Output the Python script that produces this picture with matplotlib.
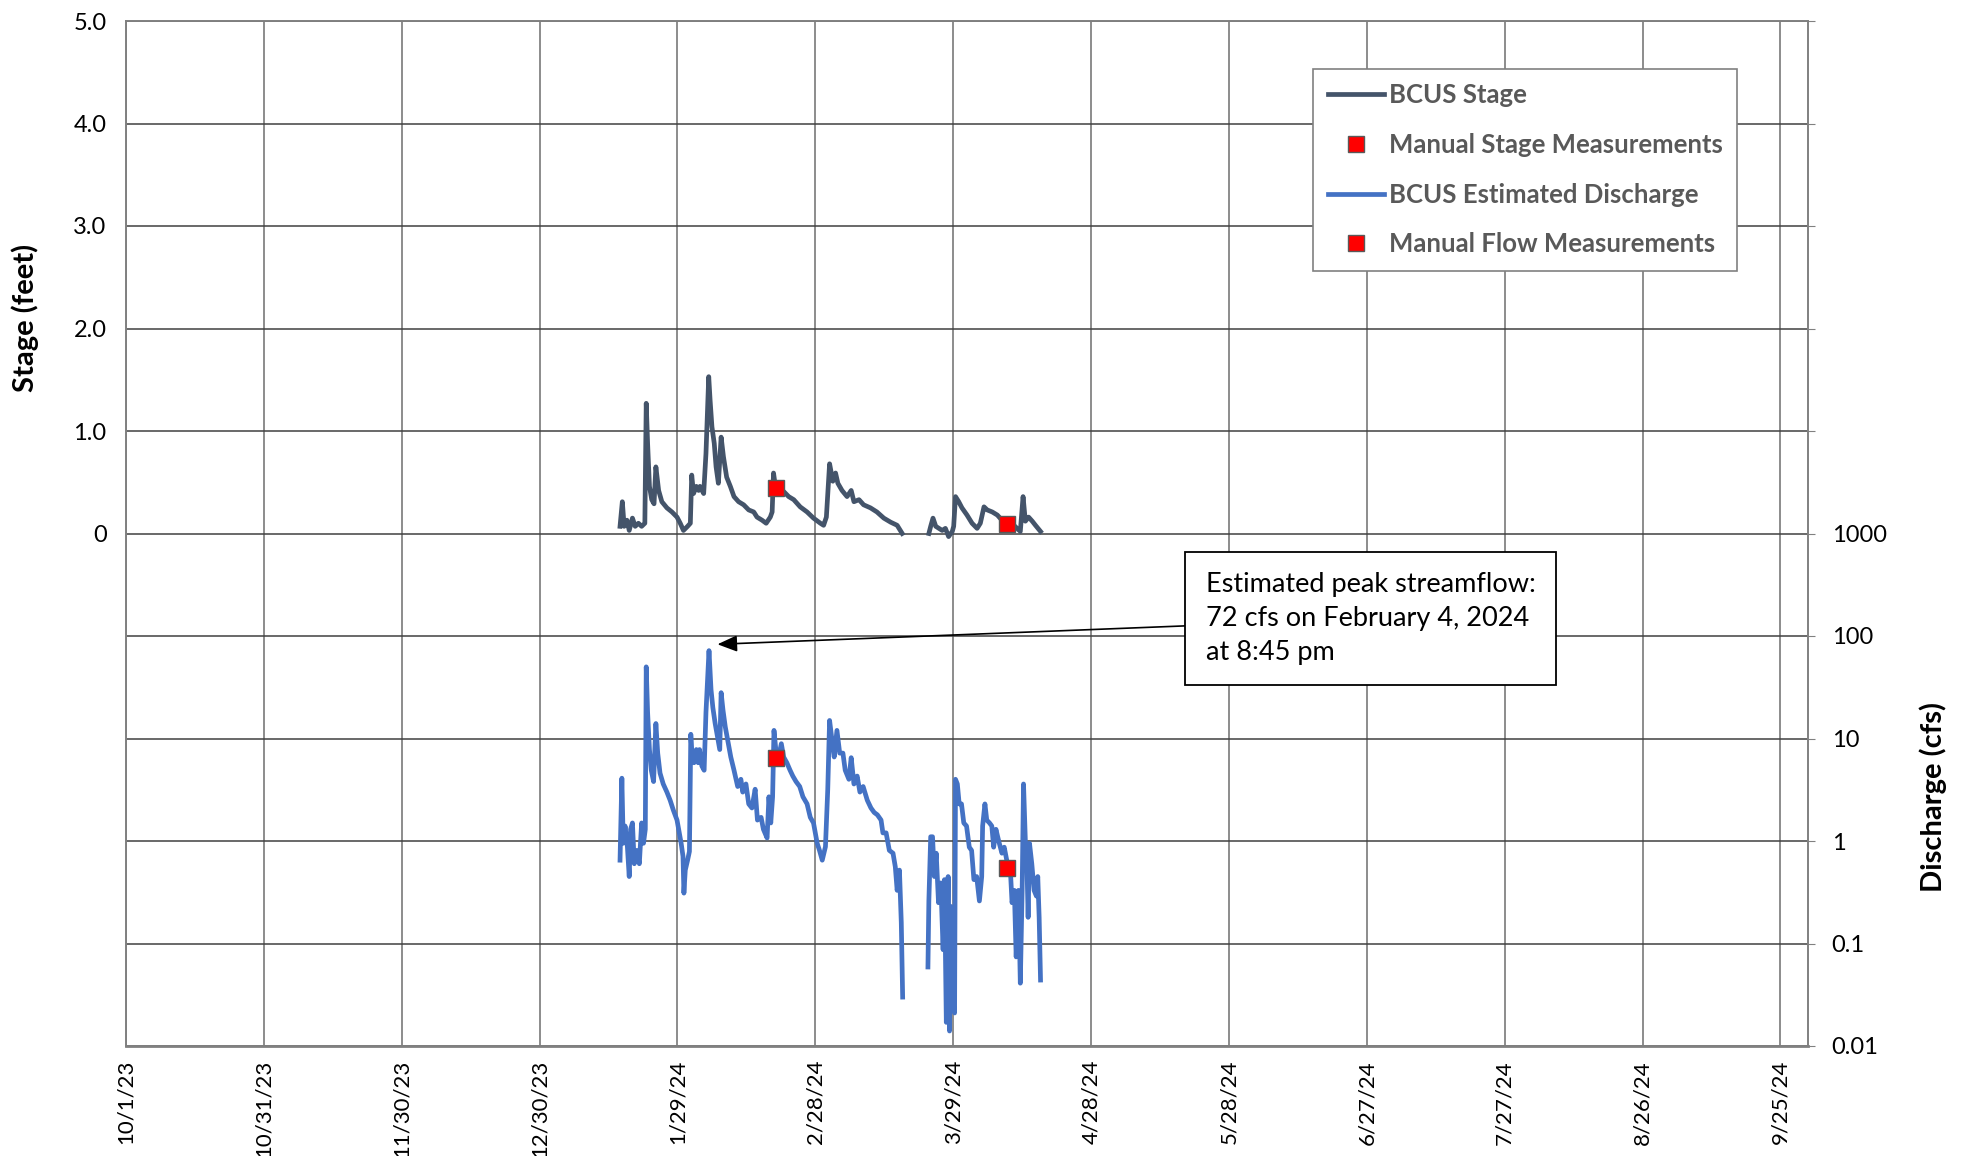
import matplotlib
matplotlib.use("Agg")
import matplotlib.pyplot as plt
import numpy as np
import pandas as pd

plt.rcParams['font.family'] = ['Lato', 'DejaVu Sans']

# days are counted from 1/29/24
BASE = pd.Timestamp("2024-01-29")
NAN = float('nan')

stage_day = [-12.5, -12.0, -11.6, -11.0, -10.5, -9.8, -9.2, -8.5, -7.8, -7.1, -6.8, -6.5, -6.1, -5.6, -5.1,
             -4.7, -4.1, -3.4, -2.3, -1.2, -0.1, 0.6, 1.3, 2.2, 2.8, 3.1, 3.5, 4.1, 4.6, 4.9, 5.7, 6.2, 6.8,
             7.1, 7.5, 8.0, 8.4, 8.9, 9.5, 10.0, 10.7, 11.5, 12.3, 13.3, 14.4, 15.5, 16.6, 17.3, 18.4, 19.3,
             20.2, 20.6, 20.9, 21.3, 22.0, 23.1, 24.2, 25.3, 26.7, 28.2, 29.6, 31.1, 31.8, 32.4, 33.1, 33.8,
             34.4, 34.9, 35.8, 36.9, 37.8, 38.4, 39.5, 40.5, 42.0, 43.4, 44.9, 46.4, 47.8, 48.9,
             51.8,
             54.7, 55.1, 55.6, 56.2, 56.9, 57.6, 58.3, 59.0, 59.8, 60.1, 60.5, 61.2, 61.9, 63.0, 64.1, 65.2,
             65.9, 66.7, 67.4, 68.5, 69.6, 70.6, 71.7, 73.2, 74.6, 75.2, 75.7, 76.4, 77.2, 77.9, 79.0]
stage_ft = [0.07, 0.31, 0.07, 0.13, 0.03, 0.15, 0.07, 0.10, 0.07, 0.10, 1.27, 0.88, 0.46, 0.33, 0.29,
            0.65, 0.42, 0.31, 0.25, 0.21, 0.16, 0.10, 0.03, 0.07, 0.10, 0.57, 0.39, 0.46, 0.42, 0.46, 0.39,
            0.78, 1.53, 1.30, 1.04, 0.88, 0.65, 0.49, 0.94, 0.75, 0.55, 0.46, 0.36, 0.31, 0.28, 0.23, 0.21,
            0.16, 0.13, 0.10, 0.16, 0.21, 0.59, 0.46, 0.42, 0.41, 0.36, 0.33, 0.26, 0.21, 0.15, 0.10, 0.08,
            0.16, 0.68, 0.51, 0.59, 0.49, 0.42, 0.36, 0.42, 0.31, 0.33, 0.28, 0.25, 0.21, 0.15, 0.11, 0.08,
            0.00,
            NAN,
            0.00, 0.07, 0.15, 0.07, 0.05, 0.03, 0.05, -0.03, 0.02, 0.07, 0.36, 0.31, 0.25, 0.18, 0.10, 0.05,
            0.10, 0.26, 0.23, 0.21, 0.18, 0.13, 0.12, 0.08, 0.02, 0.36, 0.12, 0.16, 0.12, 0.08, 0.02]

flow_day = [-12.5, -12.1, -11.8, -11.4, -10.9, -10.5, -10.2, -9.8, -9.4, -8.9, -8.3, -7.8, -7.4, -7.0,
            -6.8, -6.5, -6.1, -5.7, -5.2, -4.7, -4.3, -3.8, -3.1, -2.3, -1.6, -0.9, -0.1, 0.4, 0.8, 1.2,
            1.4, 1.7, 2.2, 2.6, 2.9, 3.2, 3.6, 4.1, 4.5, 4.8, 5.3, 5.8, 6.2, 6.86, 7.0, 7.3, 7.7, 8.2, 8.7,
            9.2, 9.5, 9.9, 10.4, 10.9, 11.6, 12.3, 13.1, 13.8, 14.2, 14.9, 15.5, 16.2, 16.9, 17.4, 18.2,
            18.7, 19.5, 19.9, 20.3, 20.7, 21.0, 21.4, 22.0, 22.6, 23.1, 23.8, 24.5, 25.1, 25.8, 26.6, 27.3,
            28.2, 28.9, 29.6, 30.4, 30.9, 31.5, 32.2, 32.7, 33.1, 33.6, 34.1, 34.7, 35.3, 36.0, 36.5, 37.3,
            37.8, 38.4, 39.1, 39.7, 40.4, 41.3, 42.1, 42.8, 43.5, 44.3, 44.7, 45.4, 46.1, 46.9, 47.4, 47.8,
            48.3, 48.7, 49.0,
            51.8,
            54.5, 54.7, 55.1, 55.5, 55.9, 56.3, 56.8, 57.3, 57.8, 58.1, 58.5, 58.9, 59.2, 59.5, 59.9, 60.3,
            60.5, 60.9, 61.3, 61.8, 62.3, 62.9, 63.5, 64.0, 64.5, 65.1, 65.7, 66.2, 66.4, 66.9, 67.3, 67.9,
            68.4, 68.8, 69.3, 69.9, 70.6, 71.1, 71.8, 72.4, 72.8, 73.3, 73.7, 74.2, 74.6, 75.0, 75.3, 75.7,
            76.0, 76.3, 76.6, 77.1, 77.6, 78.1, 78.4, 78.7, 79.0]
flow_cfs = [0.65, 4.1, 0.95, 1.4, 0.88, 0.45, 1.3, 1.5, 0.60, 0.81, 0.60, 1.5, 0.95, 1.3,
            50, 18, 7.8, 4.9, 3.8, 14, 7.2, 4.6, 3.6, 3.0, 2.5, 2.0, 1.6, 1.2, 0.95, 0.71,
            0.31, 0.52, 0.65, 0.79, 11, 6.6, 5.8, 7.8, 5.8, 7.8, 5.4, 4.9, 18, 72, 54, 30, 20, 14, 10.5,
            7.8, 28, 19, 13, 9.8, 6.6, 4.9, 3.4, 4.0, 3.0, 3.6, 2.3, 2.1, 3.2, 1.6, 1.7,
            1.3, 1.07, 2.7, 1.5, 2.7, 12, 7.8, 6.6, 8.9, 6.6, 5.8, 4.9, 4.3, 3.8, 3.4, 2.7,
            2.3, 1.7, 1.5, 0.95, 0.81, 0.65, 0.88, 3.2, 15, 9.8, 6.6, 12, 7.2, 7.2, 4.9, 4.0,
            6.5, 3.6, 4.3, 3.0, 3.4, 2.5, 2.1, 1.9, 1.8, 1.6, 1.2, 1.2, 0.81, 0.76, 0.56, 0.33,
            0.52, 0.16, 0.030,
            NAN,
            0.059, 0.26, 1.1, 1.1, 0.45, 0.76, 0.25, 0.39, 0.087, 0.42, 0.017, 0.45, 0.014, 0.23, 0.028, 0.021,
            4.0, 3.6, 2.3, 2.3, 1.5, 1.4, 0.87, 0.81, 0.42, 0.45, 0.26, 0.45, 1.4, 2.3, 1.6, 1.5,
            1.4, 0.87, 1.3, 1.0, 0.76, 0.87, 0.60, 0.56, 0.25, 0.33, 0.074, 0.33, 0.041, 0.33, 3.6, 1.0,
            0.71, 0.18, 0.95, 0.60, 0.33, 0.29, 0.45, 0.18, 0.044]

manual_day = [21.5, 71.7]
manual_stage_ft = [0.44, 0.09]
manual_flow_cfs = [6.4, 0.54]

stage_ticks = [-5, -4, -3, -2, -1, 0, 1, 2, 3, 4, 5]
stage_labels = ['', '', '', '', '', '0', '1.0', '2.0', '3.0', '4.0', '5.0']
flow_ticks = [0.01, 0.1, 1, 10, 100, 1000, 1e4, 1e5, 1e6, 1e7, 1e8]
flow_labels = ['0.01', '0.1', '1', '10', '100', '1000', '', '', '', '', '']
date_ticks = pd.date_range("2023-10-01", periods=13, freq="30D")


def to_dates(days):
    return BASE + pd.to_timedelta(days, unit="D")


fig = plt.figure(figsize=(19.63, 11.56), dpi=100)
ax = fig.add_axes([126 / 1963, 1 - 1046 / 1156, 1682 / 1963, 1025 / 1156])
ax2 = ax.twinx()

STAGE_C = '#44546A'
FLOW_C = '#4472C4'
GRID_C = '#6e6e6e'

l1, = ax.plot(to_dates(stage_day), stage_ft, color=STAGE_C, lw=3.4, solid_joinstyle='round', zorder=3)
m1, = ax.plot(to_dates(manual_day), manual_stage_ft, ls='none', marker='s', ms=11,
              mfc='#ff0000', mec='#595959', mew=1.0, zorder=4)
l2, = ax2.plot(to_dates(flow_day), flow_cfs, color=FLOW_C, lw=3.4, solid_joinstyle='round', zorder=3)
m2, = ax2.plot(to_dates(manual_day), manual_flow_cfs, ls='none', marker='s', ms=11,
               mfc='#ff0000', mec='#595959', mew=1.0, zorder=4)

ax.set_xlim(pd.Timestamp("2023-10-01"), pd.Timestamp("2024-10-01"))
ax.set_ylim(-5, 5)
ax.set_yticks(stage_ticks)
ax.set_yticklabels(stage_labels)
ax.set_xticks(date_ticks)
ax.set_xticklabels([f"{d.month}/{d.day}/{d:%y}" for d in date_ticks], rotation=90)
ax.tick_params(axis='y', length=0, pad=14, labelsize=17)
ax.tick_params(axis='x', length=0, pad=10, labelsize=16)
ax.grid(True, axis='y', color='#404040', lw=1.1)
ax.grid(True, axis='x', color=GRID_C, lw=1.1)
ax.set_axisbelow(True)

ax2.set_yscale('log')
ax2.set_ylim(0.01, 1e8)
ax2.set_yticks(flow_ticks)
ax2.set_yticklabels(flow_labels)
ax2.minorticks_off()
ax2.tick_params(axis='y', length=5, color='#808080', pad=12, labelsize=17)

for a in (ax, ax2):
    for s in a.spines.values():
        s.set_color('#808080')
        s.set_linewidth(1.2)
ax.spines['bottom'].set_linewidth(2)

ax.set_ylabel('Stage (feet)', fontsize=21, fontweight='bold')
ax.yaxis.set_label_coords(-0.052, 0.71)
ax2.set_ylabel('Discharge (cfs)', fontsize=21, fontweight='bold', rotation=90)
ax2.yaxis.set_label_coords(1.066, 0.243)

ax2.annotate('Estimated peak streamflow:\n72 cfs on February 4, 2024\nat 8:45 pm',
             xy=(BASE + pd.Timedelta(days=8.7), 83), xycoords='data',
             xytext=(0.740, 0.417), textcoords='axes fraction',
             ha='center', va='center', multialignment='left', fontsize=19.5, linespacing=1.45,
             bbox=dict(boxstyle='square,pad=0.75', fc='white', ec='black', lw=1.3),
             arrowprops=dict(arrowstyle='-|>,head_length=0.6,head_width=0.25', color='black',
                             lw=1.2, mutation_scale=20, shrinkA=0, shrinkB=0),
             zorder=5)

leg = ax2.legend([l1, m1, l2, m2],
                 ['BCUS Stage', 'Manual Stage Measurements', 'BCUS Estimated Discharge',
                  'Manual Flow Measurements'],
                 loc='upper left', bbox_to_anchor=(0.706, 0.953), borderaxespad=0,
                 frameon=True, fancybox=False, framealpha=1, edgecolor='#808080',
                 prop={'size': 18.5, 'weight': 'bold'}, labelcolor='#595959',
                 handlelength=2.2, handletextpad=0.2, labelspacing=1.0, borderpad=0.55)
leg.get_frame().set_linewidth(1.2)

fig.savefig('out.png', dpi=100)
